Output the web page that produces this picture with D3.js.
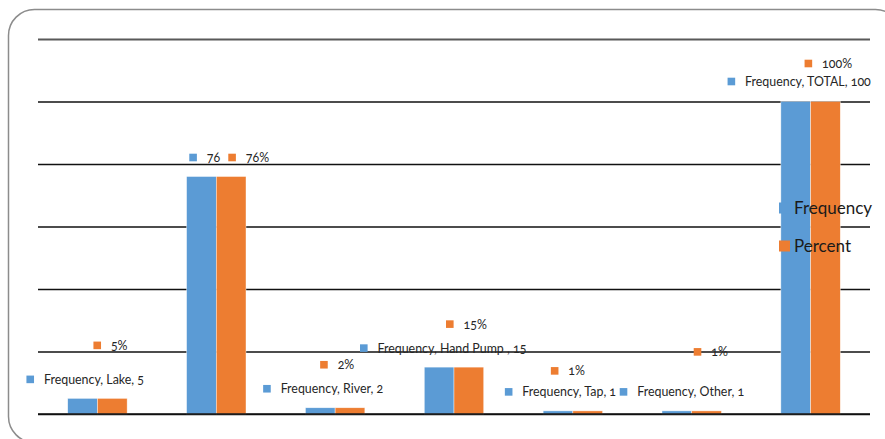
<!DOCTYPE html>
<html>
<head>
<meta charset="utf-8">
<script src="https://cdn.jsdelivr.net/npm/d3@7/dist/d3.min.js"></script>
<style>
  html, body { margin: 0; padding: 0; background: #fff; }
  svg { display: block; }
  text { font-family: Lato, "Open Sans", sans-serif; font-feature-settings: "onum"; }
</style>
</head>
<body>
<svg id="chart" width="885" height="439"></svg>
<script>
// Water sources: frequency (count) and percent of respondents
const categories = ["Lake", "Well", "River", "Hand Pump ", "Tap", "Other", "TOTAL"];
const frequency  = [5, 76, 2, 15, 1, 1, 100];
const percent    = [5, 76, 2, 15, 1, 1, 100];
const seriesNames = ["Frequency", "Percent"];
const yTicks = [0, 20, 40, 60, 80, 100, 120];

// Label placement: key-square offset from the category centre and the bar top
const freqLabelOffset = [[-71, -19], [-27, -19], [-72, -19], [-94, -19], [-68, -19], [-72, -19], [-83, -20]];
const pctLabelOffset  = [[-4, -53], [12, -19], [-15, -43], [-8, -43], [-22, -40], [2, -59], [-6, -38]];

const colors = { Frequency: "#5B9BD5", Percent: "#ED7D31" };

const svg = d3.select("#chart");
const plot = { left: 38, right: 870, top: 39, bottom: 414 };

// outer chart-area frame with rounded corners
svg.append("rect")
  .attr("x", 8.5).attr("y", 9.5)
  .attr("width", 893).attr("height", 433)
  .attr("rx", 26).attr("ry", 26)
  .attr("fill", "#fff")
  .attr("stroke", "#8c8c8c").attr("stroke-width", 1.5);

const x = d3.scaleBand().domain(categories).range([plot.left, plot.right]).paddingInner(0.5).paddingOuter(0.25);
const xSub = d3.scaleBand().domain(seriesNames).range([0, x.bandwidth()]);
const y = d3.scaleLinear().domain([0, 120]).range([plot.bottom, plot.top]);

// horizontal gridlines
const yAxis = d3.axisLeft(y).tickValues(yTicks).tickSize(-(plot.right - plot.left)).tickFormat("");
const gy = svg.append("g").attr("transform", `translate(${plot.left},0)`).call(yAxis);
gy.select(".domain").remove();
gy.selectAll(".tick line")
  .attr("stroke", d => d === 120 ? "#595959" : "#111")
  .attr("stroke-width", d => d === 120 ? 2 : 1.3);

// bars
const data = categories.map((c, i) => ({ c, i, values: [
  { s: "Frequency", v: frequency[i] },
  { s: "Percent", v: percent[i] }
]}));

const groups = svg.append("g").selectAll("g").data(data).join("g")
  .attr("transform", d => `translate(${x(d.c)},0)`);
groups.selectAll("rect").data(d => d.values).join("rect")
  .attr("x", d => xSub(d.s))
  .attr("y", d => y(d.v))
  .attr("width", xSub.bandwidth())
  .attr("height", d => y(0) - y(d.v))
  .attr("fill", d => colors[d.s])
  .attr("stroke", "#fff").attr("stroke-width", 0.6).attr("stroke-opacity", 0.7);

// redraw baseline over bars
svg.append("line")
  .attr("x1", plot.left).attr("x2", plot.right)
  .attr("y1", y(0)).attr("y2", y(0))
  .attr("stroke", "#111").attr("stroke-width", 1.3);

// data labels with legend keys
const labels = svg.append("g");
function addLabel(cx, cy, color, txt) {
  labels.append("rect").attr("x", cx).attr("y", cy - 3.8).attr("width", 7.6).attr("height", 7.6).attr("fill", color);
  labels.append("text").attr("x", cx + 17.5).attr("y", cy).attr("dy", "0.36em")
    .attr("font-size", 12.4).attr("fill", "#262626").text(txt);
}
data.forEach(d => {
  const cx = x(d.c) + x.bandwidth() / 2;
  const fTop = y(frequency[d.i]);
  const pTop = y(percent[d.i]);
  const fTxt = d.i === 1 ? `${frequency[d.i]}` : `Frequency, ${d.c}, ${frequency[d.i]}`;
  addLabel(cx + freqLabelOffset[d.i][0], fTop + freqLabelOffset[d.i][1], colors.Frequency, fTxt);
  addLabel(cx + pctLabelOffset[d.i][0], pTop + pctLabelOffset[d.i][1], colors.Percent, `${percent[d.i]}%`);
});

// legend
const legend = svg.append("g").attr("transform", "translate(779,208)");
seriesNames.forEach((s, k) => {
  const g = legend.append("g").attr("transform", `translate(0,${k * 38})`);
  g.append("rect").attr("x", 0).attr("y", -5.5).attr("width", 11).attr("height", 11).attr("fill", colors[s]);
  g.append("text").attr("x", 15).attr("y", 0).attr("dy", "0.36em")
    .attr("font-size", 17).attr("fill", "#1a1a1a").text(s);
});
</script>
</body>
</html>
